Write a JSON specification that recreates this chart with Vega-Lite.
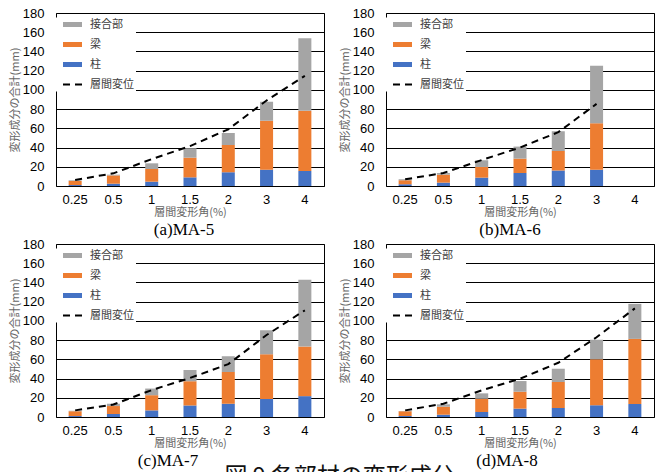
{
  "$schema": "https://vega.github.io/schema/vega-lite/v6.json",
  "padding": {"left": 8, "top": 6, "right": 0, "bottom": -16},
  "bounds": "flush",
  "columns": 2,
  "spacing": {"column": 62, "row": 58},
  "title": {"text": "図 9  各部材の変形成分", "orient": "bottom", "offset": -4, "fontSize": 23, "font": "Noto Sans CJK JP", "fontWeight": "normal", "color": "#111", "anchor": "middle", "dx": 8},
  "datasets": {
    "bars": [
      {"panel":"a","angle":"0.25","component":"柱","value":1.0},{"panel":"a","angle":"0.25","component":"梁","value":4.2},{"panel":"a","angle":"0.25","component":"接合部","value":0.7},
      {"panel":"a","angle":"0.5","component":"柱","value":2.4},{"panel":"a","angle":"0.5","component":"梁","value":8.6},{"panel":"a","angle":"0.5","component":"接合部","value":0.8},
      {"panel":"a","angle":"1","component":"柱","value":4.5},{"panel":"a","angle":"1","component":"梁","value":13.2},{"panel":"a","angle":"1","component":"接合部","value":5.9},
      {"panel":"a","angle":"1.5","component":"柱","value":9.0},{"panel":"a","angle":"1.5","component":"梁","value":20.5},{"panel":"a","angle":"1.5","component":"接合部","value":9.8},
      {"panel":"a","angle":"2","component":"柱","value":14.2},{"panel":"a","angle":"2","component":"梁","value":28.5},{"panel":"a","angle":"2","component":"接合部","value":12.5},
      {"panel":"a","angle":"3","component":"柱","value":17.0},{"panel":"a","angle":"3","component":"梁","value":50.8},{"panel":"a","angle":"3","component":"接合部","value":19.8},
      {"panel":"a","angle":"4","component":"柱","value":15.6},{"panel":"a","angle":"4","component":"梁","value":62.6},{"panel":"a","angle":"4","component":"接合部","value":75.4},
      {"panel":"b","angle":"0.25","component":"柱","value":1.7},{"panel":"b","angle":"0.25","component":"梁","value":4.2},{"panel":"b","angle":"0.25","component":"接合部","value":1.1},
      {"panel":"b","angle":"0.5","component":"柱","value":3.5},{"panel":"b","angle":"0.5","component":"梁","value":8.3},{"panel":"b","angle":"0.5","component":"接合部","value":1.7},
      {"panel":"b","angle":"1","component":"柱","value":8.7},{"panel":"b","angle":"1","component":"梁","value":11.1},{"panel":"b","angle":"1","component":"接合部","value":7.0},
      {"panel":"b","angle":"1.5","component":"柱","value":13.5},{"panel":"b","angle":"1.5","component":"梁","value":15.0},{"panel":"b","angle":"1.5","component":"接合部","value":12.5},
      {"panel":"b","angle":"2","component":"柱","value":16.0},{"panel":"b","angle":"2","component":"梁","value":20.5},{"panel":"b","angle":"2","component":"接合部","value":20.5},
      {"panel":"b","angle":"3","component":"柱","value":17.0},{"panel":"b","angle":"3","component":"梁","value":48.3},{"panel":"b","angle":"3","component":"接合部","value":59.7},
      {"panel":"c","angle":"0.25","component":"柱","value":1.0},{"panel":"c","angle":"0.25","component":"梁","value":5.0},{"panel":"c","angle":"0.25","component":"接合部","value":0.5},
      {"panel":"c","angle":"0.5","component":"柱","value":3.1},{"panel":"c","angle":"0.5","component":"梁","value":8.3},{"panel":"c","angle":"0.5","component":"接合部","value":2.4},
      {"panel":"c","angle":"1","component":"柱","value":6.9},{"panel":"c","angle":"1","component":"梁","value":15.8},{"panel":"c","angle":"1","component":"接合部","value":6.9},
      {"panel":"c","angle":"1.5","component":"柱","value":12.0},{"panel":"c","angle":"1.5","component":"梁","value":25.2},{"panel":"c","angle":"1.5","component":"接合部","value":11.7},
      {"panel":"c","angle":"2","component":"柱","value":13.8},{"panel":"c","angle":"2","component":"梁","value":33.0},{"panel":"c","angle":"2","component":"接合部","value":16.5},
      {"panel":"c","angle":"3","component":"柱","value":18.6},{"panel":"c","angle":"3","component":"梁","value":46.8},{"panel":"c","angle":"3","component":"接合部","value":24.8},
      {"panel":"c","angle":"4","component":"柱","value":21.7},{"panel":"c","angle":"4","component":"梁","value":51.6},{"panel":"c","angle":"4","component":"接合部","value":69.5},
      {"panel":"d","angle":"0.25","component":"柱","value":1.0},{"panel":"d","angle":"0.25","component":"梁","value":4.9},{"panel":"d","angle":"0.25","component":"接合部","value":0.4},
      {"panel":"d","angle":"0.5","component":"柱","value":2.4},{"panel":"d","angle":"0.5","component":"梁","value":8.3},{"panel":"d","angle":"0.5","component":"接合部","value":2.5},
      {"panel":"d","angle":"1","component":"柱","value":5.2},{"panel":"d","angle":"1","component":"梁","value":13.8},{"panel":"d","angle":"1","component":"接合部","value":5.6},
      {"panel":"d","angle":"1.5","component":"柱","value":8.7},{"panel":"d","angle":"1.5","component":"梁","value":17.6},{"panel":"d","angle":"1.5","component":"接合部","value":11.1},
      {"panel":"d","angle":"2","component":"柱","value":9.3},{"panel":"d","angle":"2","component":"梁","value":27.0},{"panel":"d","angle":"2","component":"接合部","value":13.9},
      {"panel":"d","angle":"3","component":"柱","value":12.1},{"panel":"d","angle":"3","component":"梁","value":48.1},{"panel":"d","angle":"3","component":"接合部","value":20.1},
      {"panel":"d","angle":"4","component":"柱","value":13.5},{"panel":"d","angle":"4","component":"梁","value":67.8},{"panel":"d","angle":"4","component":"接合部","value":36.4}
    ],
    "drift": [
      {"panel":"a","angle":"0.25","drift":6.3},{"panel":"a","angle":"0.5","drift":13.2},{"panel":"a","angle":"1","drift":28},{"panel":"a","angle":"1.5","drift":41.5},{"panel":"a","angle":"2","drift":59},{"panel":"a","angle":"3","drift":89},{"panel":"a","angle":"4","drift":114.6},
      {"panel":"b","angle":"0.25","drift":7},{"panel":"b","angle":"0.5","drift":13.5},{"panel":"b","angle":"1","drift":27},{"panel":"b","angle":"1.5","drift":40},{"panel":"b","angle":"2","drift":56},{"panel":"b","angle":"3","drift":85.5},
      {"panel":"c","angle":"0.25","drift":6.9},{"panel":"c","angle":"0.5","drift":13},{"panel":"c","angle":"1","drift":28},{"panel":"c","angle":"1.5","drift":40.6},{"panel":"c","angle":"2","drift":55},{"panel":"c","angle":"3","drift":85.3},{"panel":"c","angle":"4","drift":111},
      {"panel":"d","angle":"0.25","drift":6.9},{"panel":"d","angle":"0.5","drift":13.8},{"panel":"d","angle":"1","drift":27.7},{"panel":"d","angle":"1.5","drift":39.8},{"panel":"d","angle":"2","drift":56.4},{"panel":"d","angle":"3","drift":83},{"panel":"d","angle":"4","drift":113}
    ]
  },
  "concat": [
    {
      "width": 268, "height": 173,
      "title": {"text": "(a)MA-5", "dx": -6},
      "layer": [
        {
          "data": {"name": "bars"},
          "transform": [{"filter": "datum.panel === 'a'"}, {"calculate": "indexof(['柱','梁','接合部'], datum.component)", "as": "stackOrder"}],
          "mark": {"type": "bar"},
          "encoding": {
            "x": {"field": "angle", "type": "nominal", "title": "層間変形角(%)", "scale": {"domain": ["0.25","0.5","1","1.5","2","3","4"], "paddingInner": 0.66, "paddingOuter": 0.33}},
            "y": {"field": "value", "type": "quantitative", "stack": "zero", "title": "変形成分の合計(mm)", "scale": {"domain": [0, 180]}},
            "fill": {"field": "component", "type": "nominal", "scale": {"domain": ["接合部","梁","柱","層間変位"], "range": ["#A5A5A5","#ED7D31","#4472C4","#000000"]},
              "legend": {"title": null, "orient": "none", "legendX": 0, "legendY": 4.5,
                "encode": {"symbols": {"update": {
                  "shape": {"signal": "datum.value === '層間変位' ? 'stroke' : 'M-1,-0.26H1V0.26H-1Z'"},
                  "stroke": {"signal": "datum.value === '層間変位' ? '#000000' : 'transparent'"},
                  "strokeWidth": {"signal": "datum.value === '層間変位' ? 2 : 0"},
                  "strokeDash": {"signal": "datum.value === '層間変位' ? [7,5] : [1,0]"}}}}}},
            "order": {"field": "stackOrder"}
          }
        },
        {
          "data": {"name": "drift"},
          "transform": [{"filter": "datum.panel === 'a'"}],
          "mark": {"type": "line", "color": "#000", "strokeDash": [7, 5], "strokeWidth": 2},
          "encoding": {
            "x": {"field": "angle", "type": "nominal", "title": "層間変形角(%)"},
            "y": {"field": "drift", "type": "quantitative", "title": "変形成分の合計(mm)"}
          }
        }
      ]
    },
    {
      "width": 268, "height": 173,
      "title": {"text": "(b)MA-6", "dx": -10},
      "layer": [
        {
          "data": {"name": "bars"},
          "transform": [{"filter": "datum.panel === 'b'"}, {"calculate": "indexof(['柱','梁','接合部'], datum.component)", "as": "stackOrder"}],
          "mark": {"type": "bar"},
          "encoding": {
            "x": {"field": "angle", "type": "nominal", "title": "層間変形角(%)", "scale": {"domain": ["0.25","0.5","1","1.5","2","3","4"], "paddingInner": 0.66, "paddingOuter": 0.33}},
            "y": {"field": "value", "type": "quantitative", "stack": "zero", "title": "変形成分の合計(mm)", "scale": {"domain": [0, 180]}},
            "fill": {"field": "component", "type": "nominal", "scale": {"domain": ["接合部","梁","柱","層間変位"], "range": ["#A5A5A5","#ED7D31","#4472C4","#000000"]},
              "legend": {"title": null, "orient": "none", "legendX": 0, "legendY": 4.5,
                "encode": {"symbols": {"update": {
                  "shape": {"signal": "datum.value === '層間変位' ? 'stroke' : 'M-1,-0.26H1V0.26H-1Z'"},
                  "stroke": {"signal": "datum.value === '層間変位' ? '#000000' : 'transparent'"},
                  "strokeWidth": {"signal": "datum.value === '層間変位' ? 2 : 0"},
                  "strokeDash": {"signal": "datum.value === '層間変位' ? [7,5] : [1,0]"}}}}}},
            "order": {"field": "stackOrder"}
          }
        },
        {
          "data": {"name": "drift"},
          "transform": [{"filter": "datum.panel === 'b'"}],
          "mark": {"type": "line", "color": "#000", "strokeDash": [7, 5], "strokeWidth": 2},
          "encoding": {
            "x": {"field": "angle", "type": "nominal", "title": "層間変形角(%)"},
            "y": {"field": "drift", "type": "quantitative", "title": "変形成分の合計(mm)"}
          }
        }
      ]
    },
    {
      "width": 268, "height": 173,
      "title": {"text": "(c)MA-7", "dx": -22},
      "layer": [
        {
          "data": {"name": "bars"},
          "transform": [{"filter": "datum.panel === 'c'"}, {"calculate": "indexof(['柱','梁','接合部'], datum.component)", "as": "stackOrder"}],
          "mark": {"type": "bar"},
          "encoding": {
            "x": {"field": "angle", "type": "nominal", "title": "層間変形角(%)", "scale": {"domain": ["0.25","0.5","1","1.5","2","3","4"], "paddingInner": 0.66, "paddingOuter": 0.33}},
            "y": {"field": "value", "type": "quantitative", "stack": "zero", "title": "変形成分の合計(mm)", "scale": {"domain": [0, 180]}},
            "fill": {"field": "component", "type": "nominal", "scale": {"domain": ["接合部","梁","柱","層間変位"], "range": ["#A5A5A5","#ED7D31","#4472C4","#000000"]},
              "legend": {"title": null, "orient": "none", "legendX": 0, "legendY": 4.5,
                "encode": {"symbols": {"update": {
                  "shape": {"signal": "datum.value === '層間変位' ? 'stroke' : 'M-1,-0.26H1V0.26H-1Z'"},
                  "stroke": {"signal": "datum.value === '層間変位' ? '#000000' : 'transparent'"},
                  "strokeWidth": {"signal": "datum.value === '層間変位' ? 2 : 0"},
                  "strokeDash": {"signal": "datum.value === '層間変位' ? [7,5] : [1,0]"}}}}}},
            "order": {"field": "stackOrder"}
          }
        },
        {
          "data": {"name": "drift"},
          "transform": [{"filter": "datum.panel === 'c'"}],
          "mark": {"type": "line", "color": "#000", "strokeDash": [7, 5], "strokeWidth": 2},
          "encoding": {
            "x": {"field": "angle", "type": "nominal", "title": "層間変形角(%)"},
            "y": {"field": "drift", "type": "quantitative", "title": "変形成分の合計(mm)"}
          }
        }
      ]
    },
    {
      "width": 268, "height": 173,
      "title": {"text": "(d)MA-8", "dx": -13},
      "layer": [
        {
          "data": {"name": "bars"},
          "transform": [{"filter": "datum.panel === 'd'"}, {"calculate": "indexof(['柱','梁','接合部'], datum.component)", "as": "stackOrder"}],
          "mark": {"type": "bar"},
          "encoding": {
            "x": {"field": "angle", "type": "nominal", "title": "層間変形角(%)", "scale": {"domain": ["0.25","0.5","1","1.5","2","3","4"], "paddingInner": 0.66, "paddingOuter": 0.33}},
            "y": {"field": "value", "type": "quantitative", "stack": "zero", "title": "変形成分の合計(mm)", "scale": {"domain": [0, 180]}},
            "fill": {"field": "component", "type": "nominal", "scale": {"domain": ["接合部","梁","柱","層間変位"], "range": ["#A5A5A5","#ED7D31","#4472C4","#000000"]},
              "legend": {"title": null, "orient": "none", "legendX": 0, "legendY": 4.5,
                "encode": {"symbols": {"update": {
                  "shape": {"signal": "datum.value === '層間変位' ? 'stroke' : 'M-1,-0.26H1V0.26H-1Z'"},
                  "stroke": {"signal": "datum.value === '層間変位' ? '#000000' : 'transparent'"},
                  "strokeWidth": {"signal": "datum.value === '層間変位' ? 2 : 0"},
                  "strokeDash": {"signal": "datum.value === '層間変位' ? [7,5] : [1,0]"}}}}}},
            "order": {"field": "stackOrder"}
          }
        },
        {
          "data": {"name": "drift"},
          "transform": [{"filter": "datum.panel === 'd'"}],
          "mark": {"type": "line", "color": "#000", "strokeDash": [7, 5], "strokeWidth": 2},
          "encoding": {
            "x": {"field": "angle", "type": "nominal", "title": "層間変形角(%)"},
            "y": {"field": "drift", "type": "quantitative", "title": "変形成分の合計(mm)"}
          }
        }
      ]
    }
  ],
  "resolve": {"scale": {"fill": "independent"}, "legend": {"fill": "independent"}},
  "config": {
    "view": {"stroke": "#000", "strokeWidth": 1},
    "background": "white",
    "title": {"orient": "bottom", "font": "Liberation Serif", "fontSize": 17, "fontWeight": "normal", "color": "#000", "offset": 5, "anchor": "middle"},
    "axis": {"labelFont": "Liberation Sans", "labelFontSize": 13, "labelColor": "#000", "titleFont": "Noto Sans CJK JP", "titleFontSize": 11, "titleFontWeight": "normal", "titleColor": "#666666", "ticks": false, "domain": false},
    "axisX": {"grid": false, "labelPadding": 7, "titlePadding": 0, "labelAngle": 0},
    "axisY": {"grid": true, "gridColor": "#000", "gridWidth": 1, "gridOpacity": 1, "labelPadding": 12, "titlePadding": 2, "tickCount": 9},
    "legend": {
      "padding": 2, "fillColor": "white", "labelFont": "Noto Sans CJK JP", "labelFontSize": 11, "labelColor": "#404040",
      "symbolSize": 361, "symbolStrokeWidth": 0, "symbolOpacity": 1, "clipHeight": 10, "rowPadding": 9, "symbolOffset": 9, "labelOffset": 12,
      "symbolType": "M-1,-0.26H1V0.26H-1Z"
    },
    "line": {"strokeCap": "butt"}
  }
}
